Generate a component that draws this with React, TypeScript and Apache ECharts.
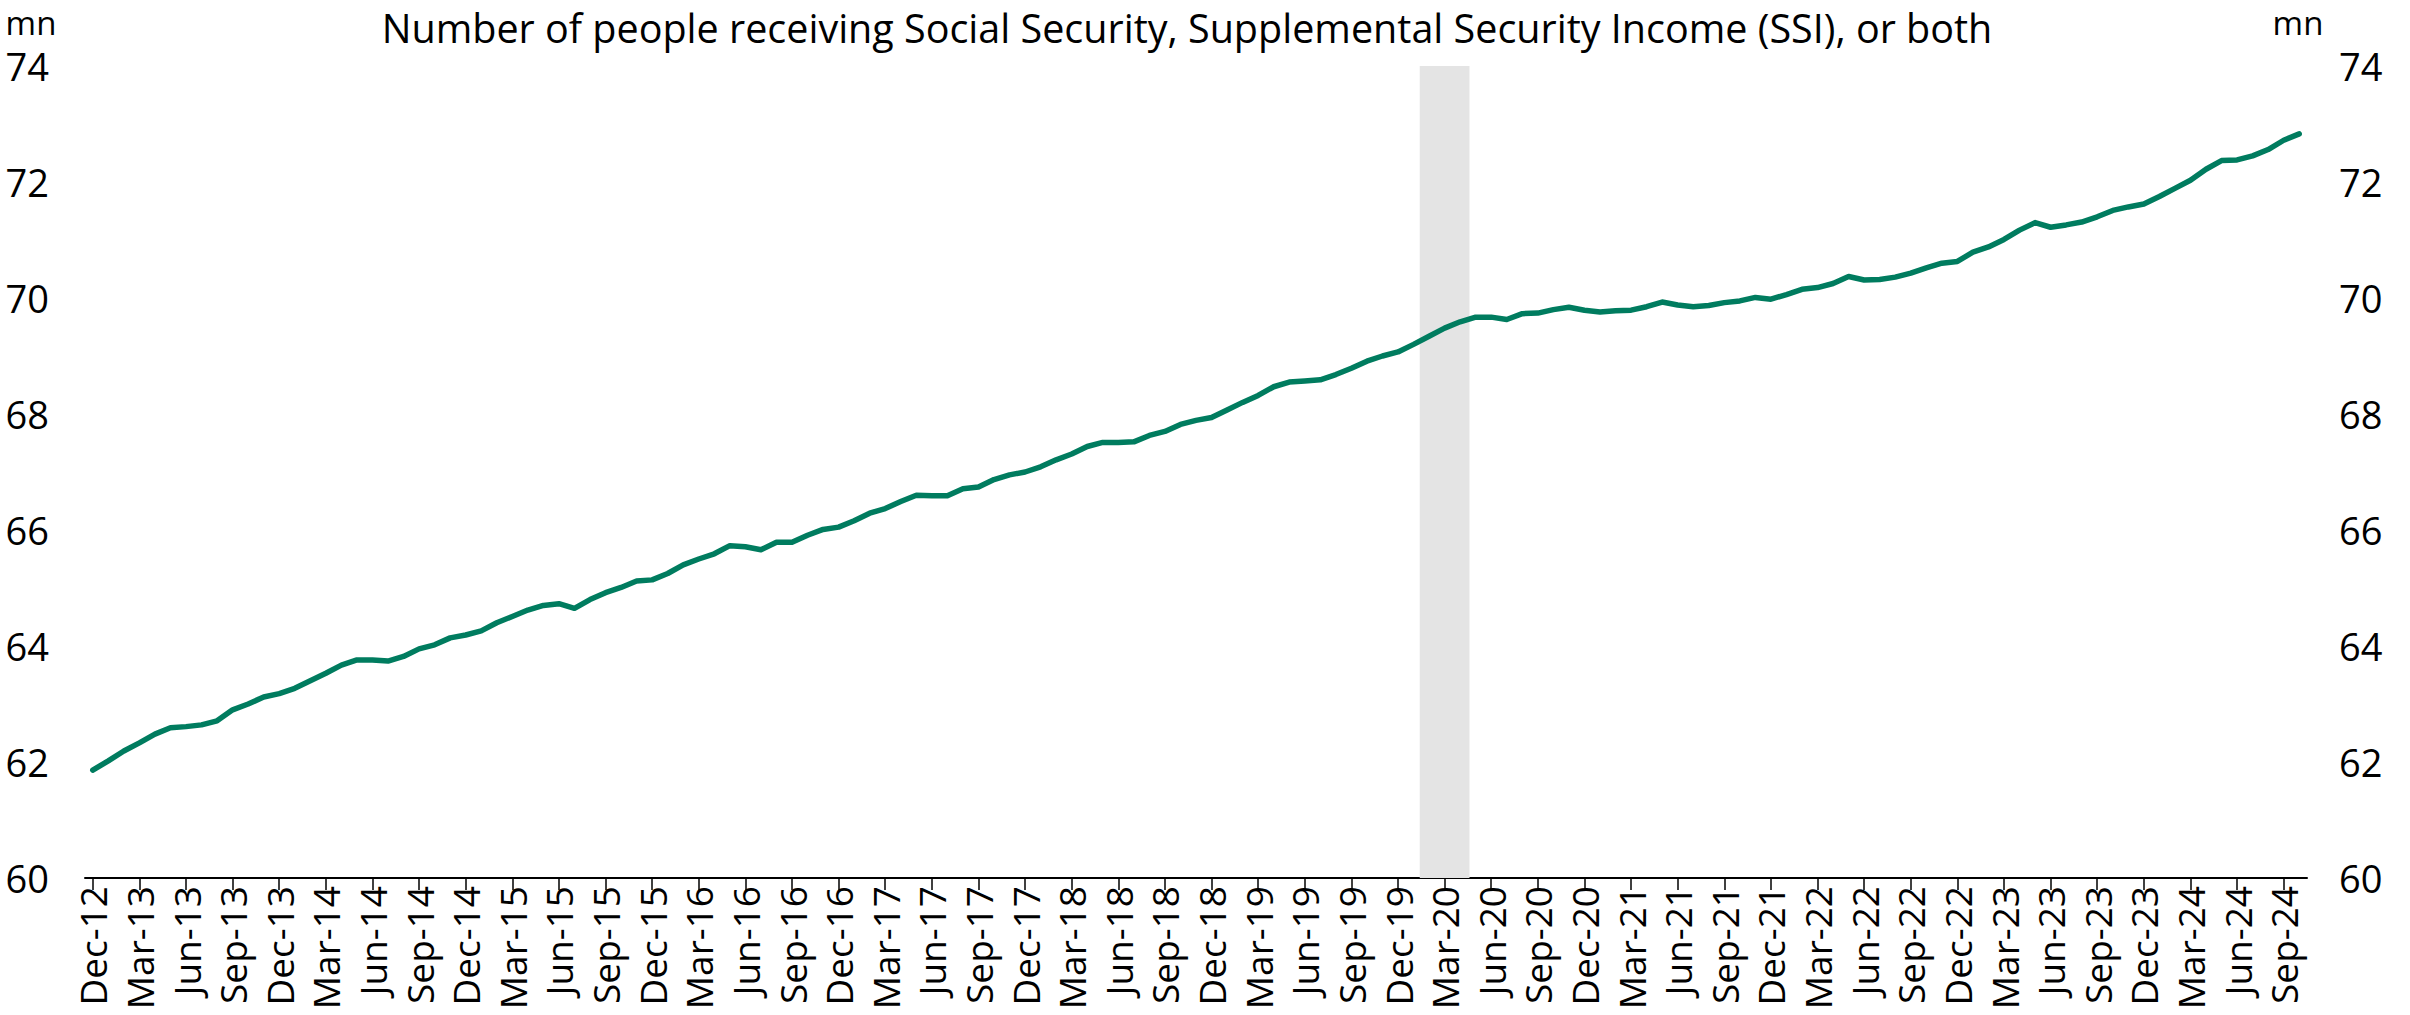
import React, { useEffect, useRef } from "react";
import * as echarts from "echarts";

// Monthly data, Dec-12 through Oct-24 (millions of people)
const MONTH_NAMES = ["Jan", "Feb", "Mar", "Apr", "May", "Jun", "Jul", "Aug", "Sep", "Oct", "Nov", "Dec"];
const START_YEAR = 2012;
const START_MONTH_INDEX = 11; // December

const beneficiaries: number[] = [
  // Dec-12 .. Jul-15
  61.86, 62.02, 62.19, 62.33, 62.48, 62.59, 62.61, 62.64, 62.71, 62.9, 63.0, 63.12, 63.18, 63.27, 63.4, 63.53,
  63.67, 63.76, 63.76, 63.74, 63.82, 63.95, 64.02, 64.14, 64.19, 64.26, 64.4, 64.51, 64.62, 64.7, 64.73, 64.65,
  // Aug-15 .. Jan-18
  64.8, 64.92, 65.01, 65.12, 65.14, 65.25, 65.4, 65.5, 65.59, 65.73, 65.71, 65.66, 65.79, 65.79, 65.91, 66.01,
  66.05, 66.16, 66.29, 66.37, 66.49, 66.6, 66.59, 66.59, 66.71, 66.74, 66.87, 66.95, 67.0, 67.09,
  // Feb-18 .. Aug-20
  67.21, 67.31, 67.44, 67.51, 67.51, 67.52, 67.63, 67.7, 67.82, 67.89, 67.94, 68.07, 68.2, 68.32, 68.47, 68.55,
  68.57, 68.59, 68.68, 68.79, 68.91, 69.0, 69.07, 69.2, 69.34, 69.48, 69.59, 69.67, 69.67, 69.63, 69.73,
  // Sep-20 .. Mar-23
  69.74, 69.8, 69.84, 69.79, 69.76, 69.78, 69.79, 69.85, 69.93, 69.88, 69.85, 69.87, 69.92, 69.95, 70.01, 69.98,
  70.06, 70.15, 70.18, 70.25, 70.37, 70.31, 70.32, 70.36, 70.43, 70.52, 70.6, 70.63, 70.79, 70.88, 71.01,
  // Apr-23 .. Oct-24
  71.17, 71.3, 71.22, 71.26, 71.31, 71.4, 71.51, 71.57, 71.62, 71.75, 71.89, 72.03, 72.22, 72.37, 72.38, 72.45,
  72.56, 72.72, 72.83,
];

const categories: string[] = beneficiaries.map((_, i) => {
  const t = START_MONTH_INDEX + i;
  const yr = (START_YEAR + Math.floor(t / 12)) % 100;
  return `${MONTH_NAMES[t % 12]}-${String(yr).padStart(2, "0")}`;
});

const recessionMonths: string[] = ["Feb-20", "Mar-20", "Apr-20"];

const Y_MIN = 60;
const Y_MAX = 74;
const Y_STEP = 2;

const TITLE = "Number of people receiving Social Security, Supplemental Security Income (SSI), or both";
const UNIT = "mn";

const FONT = "'Open Sans', 'Noto Sans', sans-serif";
const LINE_COLOR = "#007C5F";
const SHADE_COLOR = "#E4E4E4";

export default function App() {
  const ref = useRef<HTMLDivElement>(null);

  useEffect(() => {
    if (!ref.current) return;
    const chart = echarts.init(ref.current, null, { renderer: "svg" });

    const yAxisBase = {
      type: "value" as const,
      min: Y_MIN,
      max: Y_MAX,
      interval: Y_STEP,
      axisLine: { show: false },
      axisTick: { show: false },
      splitLine: { show: false },
    };

    chart.setOption({
      animation: false,
      backgroundColor: "#ffffff",
      textStyle: { fontFamily: FONT },
      grid: { left: 85, right: 103, top: 66, bottom: 137, containLabel: false },
      graphic: [
        {
          type: "text",
          x: 1187,
          y: 28,
          style: {
            text: TITLE,
            fontFamily: FONT,
            fontSize: 39.5,
            fill: "#000",
            textAlign: "center",
            textVerticalAlign: "middle",
          },
        },
        {
          type: "text",
          x: 31,
          y: 22,
          style: { text: UNIT, fontFamily: FONT, fontSize: 33, fill: "#000", textAlign: "center", textVerticalAlign: "middle" },
        },
        {
          type: "text",
          x: 2298,
          y: 22,
          style: { text: UNIT, fontFamily: FONT, fontSize: 33, fill: "#000", textAlign: "center", textVerticalAlign: "middle" },
        },
      ],
      xAxis: {
        type: "category",
        data: categories,
        boundaryGap: true,
        axisLine: { show: true, lineStyle: { color: "#000", width: 2 } },
        axisTick: { show: true, alignWithLabel: true, interval: 2, length: 12, lineStyle: { color: "#000", width: 1.5 } },
        axisLabel: {
          interval: 2,
          rotate: 90,
          fontSize: 37,
          color: "#000",
          fontFamily: FONT,
          margin: 8,
        },
        splitLine: { show: false },
      },
      yAxis: [
        {
          ...yAxisBase,
          position: "left",
          axisLabel: { fontSize: 38, color: "#000", fontFamily: FONT, margin: 36 },
        },
        {
          ...yAxisBase,
          position: "right",
          axisLabel: { fontSize: 38, color: "#000", fontFamily: FONT, margin: 32 },
        },
      ],
      series: [
        {
          name: "Recession",
          type: "bar",
          yAxisIndex: 0,
          data: categories.map((c) => (recessionMonths.includes(c) ? Y_MAX : null)),
          barWidth: "120%",
          barCategoryGap: 0,
          itemStyle: { color: SHADE_COLOR },
          silent: true,
          clip: true,
          z: 1,
        },
        {
          name: "Beneficiaries",
          type: "line",
          yAxisIndex: 0,
          data: beneficiaries,
          symbol: "none",
          lineStyle: { color: LINE_COLOR, width: 5.5, cap: "round", join: "round" },
          z: 3,
        },
      ],
    });

    return () => chart.dispose();
  }, []);

  return (
    <div
      ref={ref}
      style={{ position: "fixed", left: 0, top: 0, width: 2410, height: 1015, background: "#fff" }}
    />
  );
}
